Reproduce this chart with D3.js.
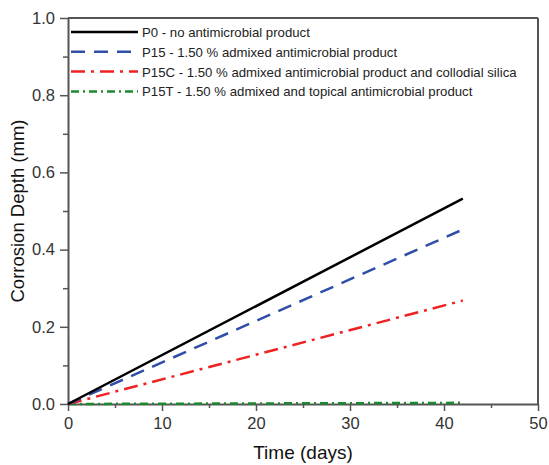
<!DOCTYPE html>
<html>
<head>
<meta charset="utf-8">
<script src="https://cdn.jsdelivr.net/npm/d3@7"></script>
<style>
  body { margin: 0; background: #fff; }
  svg { font-family: "Liberation Sans", Arial, sans-serif; }
</style>
</head>
<body>
<div id="chart"></div>
<script>
// series names shown in the legend
var names = [
  "P0 - no antimicrobial product",
  "P15 - 1.50 % admixed antimicrobial product",
  "P15C - 1.50 % admixed antimicrobial product and collodial silica",
  "P15T - 1.50 % admixed and topical antimicrobial product"
];
var days = [0, 42];
var p0 = [0, 0.532];
var p15 = [0, 0.452];
var p15c = [0, 0.268];
var p15t = [0, 0.003];
var xTicks = [0, 10, 20, 30, 40, 50];
var yTicks = [0.0, 0.2, 0.4, 0.6, 0.8, 1.0];

var width = 549, height = 465;
var margin = {top: 18, right: 11, bottom: 61, left: 68};
var w = width - margin.left - margin.right,
    h = height - margin.top - margin.bottom;

var svg = d3.select("#chart").append("svg")
  .attr("width", width)
  .attr("height", height);

var g = svg.append("g")
  .attr("transform", "translate(" + margin.left + "," + margin.top + ")");

var x = d3.scaleLinear().domain([0, 50]).range([0, w]);
var y = d3.scaleLinear().domain([0, 1]).range([h, 0]);

var axisColor = "#555";

// minor ticks
g.append("g")
  .attr("transform", "translate(0," + h + ")")
  .call(d3.axisBottom(x).tickValues([5, 15, 25, 35, 45]).tickSize(4).tickFormat(""))
  .call(function(s) { s.select(".domain").remove(); s.selectAll("line").attr("stroke", axisColor).attr("stroke-width", 1.5); });
g.append("g")
  .call(d3.axisLeft(y).tickValues([0.1, 0.3, 0.5, 0.7, 0.9]).tickSize(5).tickFormat(""))
  .call(function(s) { s.select(".domain").remove(); s.selectAll("line").attr("stroke", axisColor).attr("stroke-width", 1.5); });

// major axes
var xa = g.append("g")
  .attr("transform", "translate(0," + h + ")")
  .call(d3.axisBottom(x).tickValues(xTicks).tickSize(7).tickSizeOuter(0).tickPadding(6));
var ya = g.append("g")
  .call(d3.axisLeft(y).tickValues(yTicks).tickSize(8).tickSizeOuter(0).tickPadding(5).tickFormat(d3.format(".1f")));

[xa, ya].forEach(function(a) {
  a.select(".domain").attr("stroke", axisColor).attr("stroke-width", 2);
  a.selectAll("line").attr("stroke", axisColor).attr("stroke-width", 1.5);
  a.selectAll("text").attr("fill", "#333").style("font-size", "16.5px").style("font-family", "Liberation Sans, Arial, sans-serif");
});

// frame top and right
g.append("line").attr("x1", 0).attr("x2", w).attr("y1", 0).attr("y2", 0)
  .attr("stroke", axisColor).attr("stroke-width", 2);
g.append("line").attr("x1", w).attr("x2", w).attr("y1", 0).attr("y2", h)
  .attr("stroke", axisColor).attr("stroke-width", 2);

// series
var series = [
  {vals: p0, color: "#000000", dash: null},
  {vals: p15, color: "#2f4ea8", dash: "14,9"},
  {vals: p15c, color: "#ee2222", dash: "14,6,3,6"},
  {vals: p15t, color: "#1b8a2e", dash: "8,4,2,4"}
];

var line = d3.line()
  .x(function(d) { return x(d[0]); })
  .y(function(d) { return y(d[1]); });

series.slice().reverse().forEach(function(s) {
  g.append("path")
    .datum(days.map(function(d, i) { return [d, s.vals[i]]; }))
    .attr("d", line)
    .attr("fill", "none")
    .attr("stroke", s.color)
    .attr("stroke-width", 2.5)
    .attr("stroke-dasharray", s.dash);
});

// legend
var leg = g.append("g").attr("transform", "translate(3,14)");
series.forEach(function(s, i) {
  var row = leg.append("g").attr("transform", "translate(0," + (i * 19.8) + ")");
  row.append("line")
    .attr("x1", 0).attr("x2", 67).attr("y1", 0).attr("y2", 0)
    .attr("stroke", s.color).attr("stroke-width", 2.5)
    .attr("stroke-dasharray", s.dash);
  row.append("text")
    .attr("x", 71).attr("y", 5)
    .style("font-size", "13.2px")
    .attr("fill", "#222")
    .text(names[i]);
});

// axis titles
svg.append("text")
  .attr("x", margin.left + w / 2)
  .attr("y", 459)
  .attr("text-anchor", "middle")
  .style("font-size", "19px")
  .attr("fill", "#111")
  .text("Time (days)");

svg.append("text")
  .attr("transform", "translate(24," + (margin.top + h / 2) + ") rotate(-90)")
  .attr("text-anchor", "middle")
  .style("font-size", "18.5px")
  .attr("fill", "#111")
  .text("Corrosion Depth (mm)");
</script>
</body>
</html>
